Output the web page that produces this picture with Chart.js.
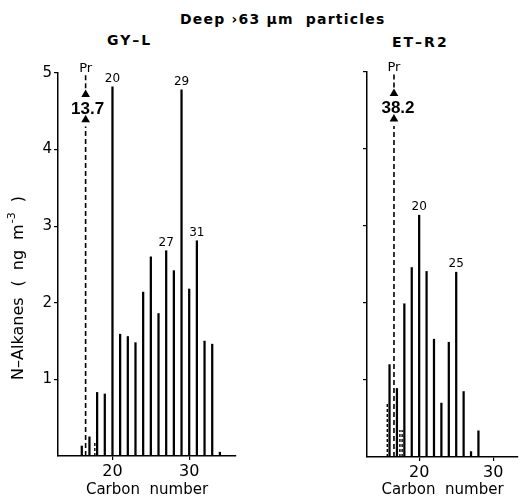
<!DOCTYPE html>
<html>
<head>
<meta charset="utf-8">
<script src="https://cdn.jsdelivr.net/npm/chart.js@4.4.1/dist/chart.umd.min.js"></script>
<style>
  body{margin:0;background:#fff;}
  #wrap{position:relative;width:523px;height:499px;overflow:hidden;font-family:"DejaVu Sans",sans-serif;color:#000;}
  .lbl{position:absolute;white-space:pre;font-weight:bold;line-height:14px;}
  canvas{position:absolute;top:0;}
</style>
</head>
<body>
<div id="wrap">
  <div class="lbl" style="left:180px;top:12px;font-size:14px;letter-spacing:1.2px;">Deep ›63 µm  particles</div>
  <div class="lbl" style="left:107px;top:33px;font-size:14px;letter-spacing:2px;">GY–L</div>
  <div class="lbl" style="left:392px;top:35px;font-size:14px;letter-spacing:2px;">ET–R2</div>
  <canvas id="left" width="250" height="499" style="left:0"></canvas>
  <canvas id="right" width="193" height="499" style="left:330px"></canvas>
</div>
<script>
// ==================== Data ====================
// GY-L panel
const carbonGY = [16,17,18,19,20,21,22,23,24,25,26,27,28,29,30,31,32,33,34];
const valuesGY = [0.13,0.25,0.83,0.81,4.82,1.59,1.56,1.48,2.14,2.60,1.86,2.68,2.42,4.78,2.18,2.81,1.50,1.46,0.05];
const dashXGY  = [17.7];
const dashYGY  = [0.17];
const prXGY    = 16.5;
const prValGY  = '13.7';
const peaksGY  = [20,27,29,31];

// ET-R2 panel
const carbonET = [16,17,18,19,20,21,22,23,24,25,26,27,28];
const valuesET = [1.2,0.89,1.99,2.46,3.14,2.41,1.53,0.70,1.49,2.40,0.85,0.07,0.34];
const dashXET  = [15.7,17.4,17.7];
const dashYET  = [0.70,0.35,0.35];
const prXET    = 16.6;
const prValET  = '38.2';
const peaksET  = [20,25];

// pristane marker (off scale): dashed pieces, arrow heads, labels
const prLow    = [0, 4.3];
const prHigh   = [4.8, 5];
const prArrows = [4.39, 4.72];
const prTextAt = 4.53;
const prNameAt = 5.06;

const xTicks = [20,30];
const yTicks = [0,1,2,3,4,5];

// ==================== Helpers ====================
function sticks(xs,ys){
  const pts=[];
  xs.forEach((x,i)=>{ pts.push({x:x,y:0},{x:x,y:ys[i]},{x:x,y:null}); });
  return pts;
}

function drawYTitle(c){
  c.save();
  c.translate(19,288);
  c.rotate(-Math.PI/2);
  c.textBaseline='middle';
  c.textAlign='left';
  const big='16px "DejaVu Sans"', small='11px "DejaVu Sans"';
  const parts=[
    {t:'N–Alkanes',f:big,gap:11,dy:0},
    {t:'(',f:big,gap:10,dy:0},
    {t:'ng',f:big,gap:10,dy:0},
    {t:'m',f:big,gap:1,dy:0},
    {t:'-3',f:small,gap:10,dy:-7},
    {t:')',f:big,gap:0,dy:0}
  ];
  let total=0;
  parts.forEach(p=>{ c.font=p.f; p.w=c.measureText(p.t).width; total+=p.w+p.gap; });
  let x=-total/2;
  parts.forEach(p=>{ c.font=p.f; c.fillText(p.t,x,p.dy); x+=p.w+p.gap; });
  c.restore();
}

// ==================== Chart builder ====================
function makeChart(id,p){
  const ctx=document.getElementById(id).getContext('2d');

  const textPlugin={
    id:'text_'+id,
    afterDatasetsDraw(chart){
      const c=chart.ctx, xs=chart.scales.x, ys=chart.scales.y;
      c.save();
      c.fillStyle='#000';
      c.textAlign='center';
      c.textBaseline='middle';
      c.font='12px "DejaVu Sans"';
      p.peaks.forEach(n=>{
        const v=p.values[p.carbons.indexOf(n)];
        c.fillText(String(n),xs.getPixelForValue(n),ys.getPixelForValue(v)-8);
      });
      const px=xs.getPixelForValue(p.prX);
      c.font='13px "DejaVu Sans"';
      c.fillText('Pr',px,ys.getPixelForValue(prNameAt));
      c.font='bold 17px "Liberation Sans"';
      c.fillText(p.prVal,px+p.prShift,ys.getPixelForValue(prTextAt));
      c.restore();
      if(p.yTitle) drawYTitle(c);
    }
  };

  const tickFont={family:'"DejaVu Sans"',size:15};

  return new Chart(ctx,{
    type:'bar',
    data:{
      datasets:[
        {
          type:'bar',
          data:p.carbons.map((x,i)=>({x:x,y:p.values[i]})),
          backgroundColor:'#000',
          borderWidth:0,
          barThickness:1.6
        },
        {
          type:'line',
          data:sticks(p.dashX,p.dashY),
          borderColor:'#000',
          borderWidth:1.4,
          borderDash:[3,2],
          pointRadius:0
        },
        {
          type:'line',
          data:[{x:p.prX,y:prLow[0]},{x:p.prX,y:prLow[1]},{x:p.prX,y:null},
                {x:p.prX,y:prHigh[0]},{x:p.prX,y:prHigh[1]}],
          borderColor:'#000',
          borderWidth:1.6,
          borderDash:[5,3],
          pointRadius:0
        },
        {
          type:'scatter',
          data:prArrows.map(v=>({x:p.prX,y:v})),
          pointStyle:'triangle',
          pointRadius:5,
          backgroundColor:'#000',
          borderWidth:0
        }
      ]
    },
    options:{
      responsive:false,
      animation:false,
      events:[],
      layout:{padding:{top:p.top,right:p.right,left:0,bottom:0}},
      plugins:{legend:{display:false},tooltip:{enabled:false}},
      scales:{
        x:{
          type:'linear',
          offset:false,
          min:p.xMin, max:p.xMax,
          afterBuildTicks:ax=>{ ax.ticks=xTicks.map(v=>({value:v})); },
          afterFit:s=>{ s.height=p.xH; },
          ticks:{color:'#000',font:{family:'"DejaVu Sans"',size:16},padding:2,maxRotation:0},
          grid:{offset:false,drawOnChartArea:false,drawTicks:true,tickLength:4,color:'#000',lineWidth:1.2},
          border:{display:true,color:'#000',width:1.5},
          title:{display:true,text:'Carbon  number',color:'#000',
                 font:{family:'"DejaVu Sans"',size:15},padding:{top:3,bottom:0}}
        },
        y:{
          min:0, max:5,
          afterBuildTicks:ax=>{ ax.ticks=yTicks.map(v=>({value:v})); },
          afterFit:s=>{ s.width=p.yW; },
          ticks:{color:'#000',font:tickFont,padding:2,
                 callback:v=>(p.yLabels && v!==0)?String(v):''},
          grid:{drawOnChartArea:false,drawTicks:true,tickLength:4,lineWidth:1.2,
                color:c=>(c.tick && c.tick.value===0)?'rgba(0,0,0,0)':'#000'},
          border:{display:true,color:'#000',width:1.5}
        }
      }
    },
    plugins:[textPlugin]
  });
}

makeChart('left',{
  carbons:carbonGY, values:valuesGY, dashX:dashXGY, dashY:dashYGY,
  prX:prXGY, prVal:prValGY, prShift:2, peaks:peaksGY,
  xMin:12.9, xMax:36.1, top:73, right:14, yW:58, xH:43,
  yLabels:true, yTitle:true
});

makeChart('right',{
  carbons:carbonET, values:valuesET, dashX:dashXET, dashY:dashYET,
  prX:prXET, prVal:prValET, prShift:4, peaks:peaksET,
  xMin:12.96, xMax:33.34, top:72, right:0, yW:37, xH:42,
  yLabels:false, yTitle:false
});
</script>
</body>
</html>
